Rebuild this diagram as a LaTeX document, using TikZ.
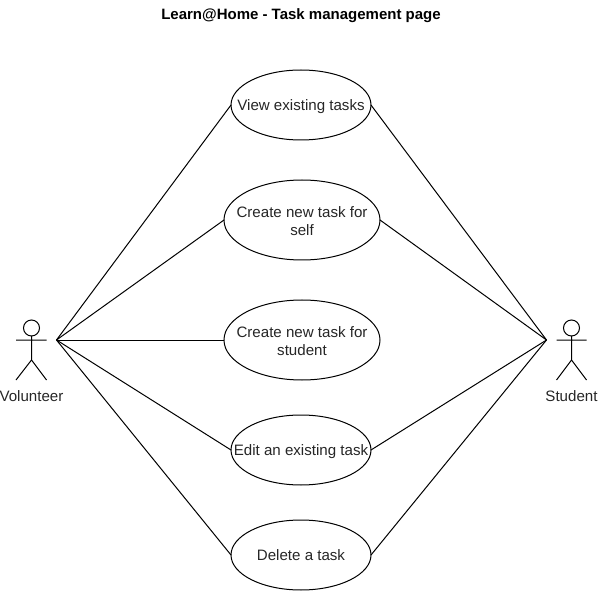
\documentclass[tikz,border=0pt]{standalone}
\usepackage{fontspec}
\setmainfont{Liberation Sans}
\usetikzlibrary{shapes.geometric}
\tikzset{
  usecase/.style={ellipse,draw=black,line width=1pt,fill=white,inner sep=0pt,outer sep=0pt},
  txt/.style={font=\fontsize{15.1}{18}\selectfont,text=black!85,align=center,inner sep=0pt},
  conn/.style={draw=black,line width=1pt},
  figure/.style={draw=black,line width=1pt},
  head/.style={circle,draw=black,line width=1pt,minimum size=16pt,inner sep=0pt,outer sep=0pt}
}
\begin{document}
\begin{tikzpicture}[x=1pt,y=-1pt]
\useasboundingbox (0,0) rectangle (598,591);
\node[font=\fontsize{15}{18}\selectfont\bfseries,inner sep=0pt] (title) at (301,16) {Learn@Home - Task management page};
% actors
\coordinate (volR) at (56.5,340);
\coordinate (stuL) at (546.5,340);
\node[head] (volH) at (31.5,328) {};
\coordinate (volA) at (16,340); \coordinate (volB) at (46.5,340);
\coordinate (volC) at (31.5,360); \coordinate (volD) at (16,380); \coordinate (volE) at (46.5,380);
\draw[figure] (volH.south) -- (volC) (volA) -- (volB) (volD) -- (volC) -- (volE);
\node[txt] (volT) at (31.5,396) {Volunteer};
\node[head] (stuH) at (571.5,328) {};
\coordinate (stuA) at (556.5,340); \coordinate (stuB) at (586.5,340);
\coordinate (stuC) at (571.5,360); \coordinate (stuD) at (556.5,380); \coordinate (stuE) at (586.5,380);
\draw[figure] (stuH.south) -- (stuC) (stuA) -- (stuB) (stuD) -- (stuC) -- (stuE);
\node[txt] (stuT) at (571.5,396) {Student};
% use cases
\node[usecase,minimum width=140pt,minimum height=70pt,label={[txt,yshift=-2pt]center:View existing tasks}] (view) at (301,105) {};
\node[usecase,minimum width=156pt,minimum height=80pt,label={[txt,yshift=-1pt]center:Create new task for\\self}] (self) at (302,220) {};
\node[usecase,minimum width=156pt,minimum height=80pt,label={[txt,yshift=-1pt]center:Create new task for\\student}] (stud) at (302,340) {};
\node[usecase,minimum width=140pt,minimum height=70pt,label={[txt,yshift=-2pt]center:Edit an existing task}] (edit) at (301,450) {};
\node[usecase,minimum width=140pt,minimum height=70pt,label={[txt]center:Delete a task}] (del) at (301,555) {};
% connectors
\foreach \n in {view,self,stud,edit,del} \draw[conn] (volR) -- (\n.west);
\foreach \n in {view,self,edit,del} \draw[conn] (stuL) -- (\n.east);
\end{tikzpicture}
\end{document}
